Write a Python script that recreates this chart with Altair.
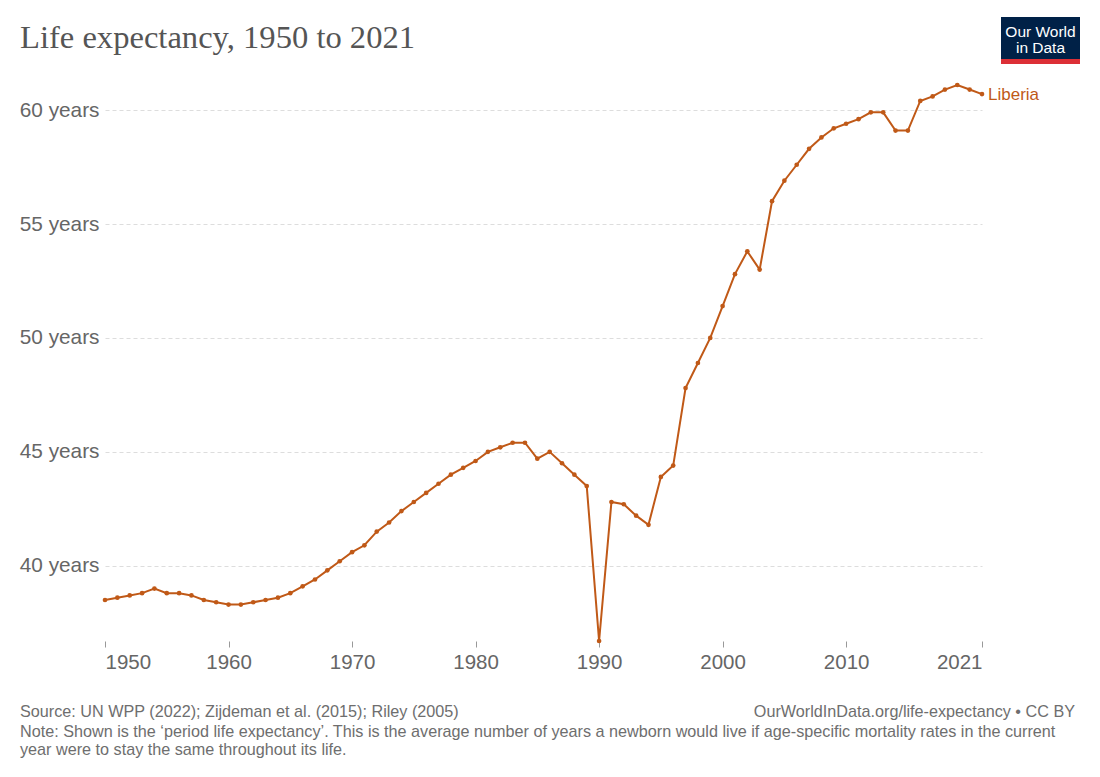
import altair as alt
import pandas as pd

years = list(range(1950, 2022))
life_exp = [
    38.5, 38.6, 38.7, 38.8, 39.0, 38.8, 38.8, 38.7, 38.5, 38.4,
    38.3, 38.3, 38.4, 38.5, 38.6, 38.8, 39.1, 39.4, 39.8, 40.2,
    40.6, 40.9, 41.5, 41.9, 42.4, 42.8, 43.2, 43.6, 44.0, 44.3,
    44.6, 45.0, 45.2, 45.4, 45.4, 44.7, 45.0, 44.5, 44.0, 43.5,
    36.7, 42.8, 42.7, 42.2, 41.8, 43.9, 44.4, 47.8, 48.9, 50.0,
    51.4, 52.8, 53.8, 53.0, 56.0, 56.9, 57.6, 58.3, 58.8, 59.2,
    59.4, 59.6, 59.9, 59.9, 59.1, 59.1, 60.4, 60.6, 60.9, 61.1,
    60.9, 60.7,
]
country = "Liberia"
x_ticks = [1950, 1960, 1970, 1980, 1990, 2000, 2010, 2021]
y_ticks = [40, 45, 50, 55, 60]

title_text = "Life expectancy, 1950 to 2021"
source_text = "Source: UN WPP (2022); Zijdeman et al. (2015); Riley (2005)"
url_text = "OurWorldInData.org/life-expectancy • CC BY"
note_lines = [
    "Note: Shown is the ‘period life expectancy’. This is the average number of years a newborn would live if age-specific mortality rates in the current",
    "year were to stay the same throughout its life.",
]

COLOR = "#c05917"
GRAY = "#666666"
FONT = "Liberation Sans"

df = pd.DataFrame({"year": years, "value": life_exp, "country": country})

W, H = 877, 556

x_enc = alt.X("year:Q",
              scale=alt.Scale(domain=[1950, 2021], nice=False, zero=False),
              axis=alt.Axis(values=x_ticks, format="d", title=None, grid=False,
                            domain=False, ticks=True, tickSize=6, tickColor="#999999",
                            labelFontSize=20.5, labelColor=GRAY, labelFont=FONT,
                            labelPadding=5, labelFlush=True))
y_enc = alt.Y("value:Q",
              scale=alt.Scale(domain=[36.7, 61.1], nice=False, zero=False),
              axis=alt.Axis(values=y_ticks, title=None, domain=False, ticks=False,
                            labelExpr="datum.value + ' years'",
                            labelFontSize=20.8, labelColor=GRAY, labelFont=FONT,
                            labelPadding=6, grid=True, gridColor="#dddddd",
                            gridDash=[4, 3], gridWidth=1))

base = alt.Chart(df)
line = base.mark_line(color=COLOR, strokeWidth=2).encode(x=x_enc, y=y_enc)
pts = base.mark_circle(color=COLOR, size=22, opacity=1).encode(x="year:Q", y="value:Q")
label = base.transform_filter(alt.datum.year == 2021).mark_text(
    align="left", baseline="middle", dx=6, dy=1, fontSize=17, font=FONT, color=COLOR
).encode(x="year:Q", y="value:Q", text="country:N")

title = alt.Chart(pd.DataFrame({"t": [title_text]})).mark_text(
    align="left", baseline="alphabetic", font="Liberation Serif", fontSize=32.6, color="#555555"
).encode(x=alt.value(-85), y=alt.value(-37), text="t:N")

foot_df = pd.DataFrame({
    "t": [source_text, note_lines[0], note_lines[1]],
    "yy": [632, 652, 670],
})
foot = alt.Chart(foot_df).mark_text(
    align="left", baseline="alphabetic", font=FONT, fontSize=16.2, color="#6e6e6e"
).encode(x=alt.value(-85), y=alt.Y("yy:Q", scale=None), text="t:N")

url = alt.Chart(pd.DataFrame({"t": [url_text]})).mark_text(
    align="right", baseline="alphabetic", font=FONT, fontSize=16.2, color="#6e6e6e"
).encode(x=alt.value(970), y=alt.value(632), text="t:N")

logo_bg = alt.Chart(pd.DataFrame({"a": [0]})).mark_rect(color="#002147").encode(
    x=alt.value(896), x2=alt.value(975), y=alt.value(-68), y2=alt.value(-21))
logo_red = alt.Chart(pd.DataFrame({"a": [0]})).mark_rect(color="#dc2f36").encode(
    x=alt.value(896), x2=alt.value(975), y=alt.value(-26), y2=alt.value(-21))
logo_txt = alt.Chart(pd.DataFrame({"t": ["Our World", "in Data"], "yy": [-48, -32]})).mark_text(
    align="center", baseline="alphabetic", font=FONT, fontSize=15.5, color="white"
).encode(x=alt.value(935.5), y=alt.Y("yy:Q", scale=None), text="t:N")

chart = alt.layer(line, pts, label, title, foot, url, logo_bg, logo_red, logo_txt).properties(
    width=W, height=H,
    autosize=alt.AutoSizeParams(type="none"),
    padding={"left": 97, "top": 77, "right": 110, "bottom": 128},
).configure_view(stroke=None)

chart.save("out.html", embed_options={"renderer": "svg", "actions": False})
